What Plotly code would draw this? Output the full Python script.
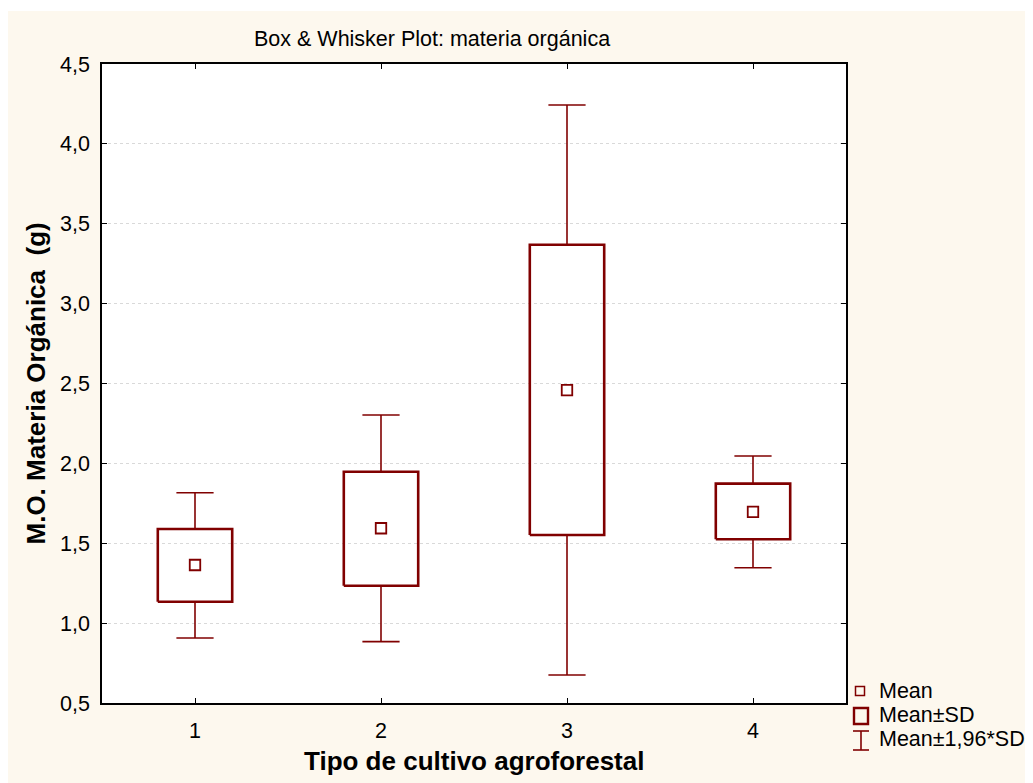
import plotly.graph_objects as go

# ---- data ----
categories = [1, 2, 3, 4]
tick_labels = ["1", "2", "3", "4"]
means = [1.364, 1.594, 2.459, 1.697]
sd_low = [1.134, 1.234, 1.552, 1.525]
sd_high = [1.589, 1.948, 3.369, 1.873]
ci_low = [0.907, 0.884, 0.675, 1.347]
ci_high = [1.816, 2.303, 4.243, 2.046]

RED = "#800000"
CREAM = "#fdf8ee"
FONT = "Arial, Liberation Sans, sans-serif"
FS = 21.5      # regular text size
FSB = 26       # bold axis titles

BOX_HALF = 0.2
CAP_HALF = 0.1

# figure geometry (figure coordinates, px)
W, H = 1025, 775
ML, MR, MT, MB = 94, 187, 56, 80
PW, PH = W - ML - MR, H - MT - MB


def px(xf):
    return (xf - ML) / PW


def py(yf):
    return 1 - (yf - MT) / PH


fig = go.Figure()

# whiskers (mean +- 1.96*SD)
wx, wy = [], []
for c, lo, hi, blo, bhi in zip(categories, ci_low, ci_high, sd_low, sd_high):
    wx += [c, c, None, c - CAP_HALF, c + CAP_HALF, None,
           c, c, None, c - CAP_HALF, c + CAP_HALF, None]
    wy += [bhi, hi, None, hi, hi, None,
           blo, lo, None, lo, lo, None]
fig.add_trace(go.Scatter(x=wx, y=wy, mode="lines",
                         line=dict(color=RED, width=1.6),
                         hoverinfo="skip", showlegend=False))

# boxes (mean +- SD)
bx, by = [], []
for c, blo, bhi in zip(categories, sd_low, sd_high):
    bx += [c - BOX_HALF, c + BOX_HALF, c + BOX_HALF, c - BOX_HALF, c - BOX_HALF, None]
    by += [blo, blo, bhi, bhi, blo, None]
fig.add_trace(go.Scatter(x=bx, y=by, mode="lines",
                         line=dict(color=RED, width=2.6),
                         hoverinfo="skip", showlegend=False))

# means
fig.add_trace(go.Scatter(x=categories, y=means, mode="markers",
                         marker=dict(symbol="square-open", size=10.5,
                                     color=RED, line=dict(width=1.8, color=RED)),
                         showlegend=False))

shapes = []
annotations = []

# white strip at very top (reference cream starts 3px lower)
shapes.append(dict(type="rect", xref="paper", yref="paper",
                   x0=px(-5), x1=px(W + 5), y0=py(3), y1=py(-5),
                   fillcolor="white", line=dict(width=0), layer="above"))

# ---- custom legend ----
shapes.append(dict(type="rect", xref="paper", yref="paper",
                   x0=px(847.5), x1=px(856.5), y0=py(687.5), y1=py(678.5),
                   line=dict(color=RED, width=1.5), fillcolor="rgba(0,0,0,0)"))
shapes.append(dict(type="rect", xref="paper", yref="paper",
                   x0=px(846), x1=px(860), y0=py(716), y1=py(700),
                   line=dict(color=RED, width=2.4), fillcolor="rgba(0,0,0,0)"))
shapes.append(dict(type="line", xref="paper", yref="paper",
                   x0=px(853), x1=px(853), y0=py(742), y1=py(723),
                   line=dict(color=RED, width=1.6)))
shapes.append(dict(type="line", xref="paper", yref="paper",
                   x0=px(845), x1=px(861), y0=py(723), y1=py(723),
                   line=dict(color=RED, width=1.6)))
shapes.append(dict(type="line", xref="paper", yref="paper",
                   x0=px(845), x1=px(861), y0=py(742), y1=py(742),
                   line=dict(color=RED, width=1.6)))

legend_texts = ["Mean", "Mean±SD", "Mean±1,96*SD"]
legend_y = [682.5, 707, 731]
for t, yy in zip(legend_texts, legend_y):
    annotations.append(dict(text=t, xref="paper", yref="paper",
                            x=px(869), y=py(yy), xanchor="left", yanchor="middle",
                            showarrow=False, font=dict(family=FONT, size=FS, color="black")))

# title
annotations.append(dict(text="Box &amp; Whisker Plot: materia orgánica",
                        xref="paper", yref="paper", x=px(424), y=py(31),
                        xanchor="center", yanchor="middle", showarrow=False,
                        font=dict(family=FONT, size=FS, color="black")))
# axis titles
annotations.append(dict(text="<b>Tipo de cultivo agroforestal</b>",
                        xref="paper", yref="paper", x=0.5, y=py(753),
                        xanchor="center", yanchor="middle", showarrow=False,
                        font=dict(family=FONT, size=FSB, color="black")))
annotations.append(dict(text="<b>M.O. Materia Orgánica\u00a0\u00a0(g)</b>",
                        xref="paper", yref="paper", x=px(27), y=0.5,
                        xanchor="center", yanchor="middle", textangle=-90,
                        showarrow=False,
                        font=dict(family=FONT, size=FSB, color="black")))

fig.update_layout(
    width=W, height=H,
    margin=dict(l=ML, r=MR, t=MT, b=MB, pad=0),
    paper_bgcolor=CREAM,
    plot_bgcolor="white",
    separators=", ",
    showlegend=False,
    shapes=shapes,
    annotations=annotations,
    font=dict(family=FONT, size=FS, color="black"),
)

fig.update_xaxes(range=[0.5, 4.5], tickvals=categories, ticktext=tick_labels,
                 showgrid=False, zeroline=False,
                 showline=True, linecolor="black", linewidth=1.5, mirror="ticks",
                 ticks="inside", ticklen=5, tickwidth=1.2, tickcolor="black",
                 tickfont=dict(family=FONT, size=FS, color="black"),
                 ticklabelstandoff=7)
fig.update_yaxes(range=[0.5, 4.5], dtick=0.5, tick0=0.5, tickformat=".1f",
                 showgrid=True, gridcolor="#d9d9d9", griddash="dot", gridwidth=1,
                 zeroline=False,
                 showline=True, linecolor="black", linewidth=1.5, mirror="ticks",
                 ticks="inside", ticklen=5, tickwidth=1.2, tickcolor="black",
                 tickfont=dict(family=FONT, size=FS, color="black"),
                 ticklabelstandoff=6)

fig.write_html("out.html")
